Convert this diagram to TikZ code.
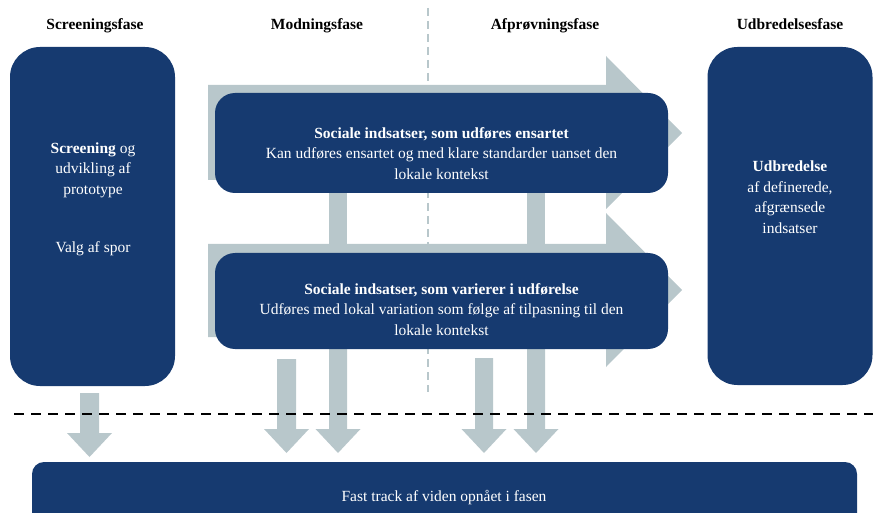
\documentclass[tikz,border=0pt]{standalone}
\usepackage{fontspec}
\setmainfont{Liberation Serif}
\definecolor{navy}{HTML}{163A70}
\definecolor{arrowgray}{HTML}{B8C7CB}
\begin{document}
\begin{tikzpicture}[x=1pt,y=-1pt,
  box/.style={fill=navy, text=white, align=center, inner sep=0pt, font=\fontsize{15.5}{20.5}\selectfont},
  hdr/.style={text=black, inner sep=0pt, anchor=base, font=\fontsize{15.5}{18}\selectfont\bfseries},
  flow/.style={fill=arrowgray},
  phaseline/.style={draw=arrowgray, line width=2pt, dash pattern=on 8pt off 5pt},
  splitline/.style={draw=black, line width=2.5pt, dash pattern=on 10pt off 7pt}]
\useasboundingbox (0,0) rectangle (873,513);
\clip (0,0) rectangle (873,513);
% headers
\node[hdr] (h1) at (95,30) {Screeningsfase};
\node[hdr] (h2) at (317,30) {Modningsfase};
\node[hdr] (h3) at (545,30) {Afprøvningsfase};
\node[hdr] (h4) at (790,30) {Udbredelsesfase};
% phase divider
\coordinate (d1) at (428,8);
\coordinate (d2) at (428,392);
\draw[phaseline] (d1) -- (d2);
% big arrows
\fill[flow] (208,85) -- (606,85) -- (606,56) -- (682,133) -- (606,209) -- (606,180) -- (208,180) -- cycle;
\fill[flow] (208,244) -- (606,244) -- (606,213) -- (682,290) -- (606,367) -- (606,337) -- (208,337) -- cycle;
% vertical connectors
\fill[flow] (329,180) rectangle (347,244);
\fill[flow] (527,180) rectangle (545,244);
% down arrows
\fill[flow] (80,393) -- (99,393) -- (99,433) -- (112,433) -- (89.5,457) -- (67,433) -- (80,433) -- cycle;
\fill[flow] (277,359) -- (296,359) -- (296,429) -- (309,429) -- (286.5,453) -- (264,429) -- (277,429) -- cycle;
\fill[flow] (329,337) -- (347,337) -- (347,429) -- (360.5,429) -- (338,453) -- (315.5,429) -- (329,429) -- cycle;
\fill[flow] (475,358) -- (493,358) -- (493,429) -- (506.5,429) -- (484,453) -- (461.5,429) -- (475,429) -- cycle;
\fill[flow] (527,337) -- (545,337) -- (545,429) -- (558.5,429) -- (536,453) -- (513.5,429) -- (527,429) -- cycle;
% boxes
\node[box, minimum width=165pt, minimum height=339pt, rounded corners=30pt] (screen) at (92.5,216.5) {};
\node[box, align=center] (screentxt) at (93,170) {\textbf{Screening} og\\udvikling af\\prototype};
\node[box] (spor) at (93,249) {Valg af spor};
\node[box, minimum width=165pt, minimum height=338pt, rounded corners=30pt] (udbr) at (790,216) {};
\node[box] (udbrtxt) at (790,197) {\textbf{Udbredelse}\\af definerede,\\afgrænsede\\indsatser};
\node[box, minimum width=453pt, minimum height=100pt, rounded corners=20pt] (ens) at (441.5,143) {};
\node[box] (enstxt) at (441.5,153.5) {\textbf{Sociale indsatser, som udføres ensartet}\\Kan udføres ensartet og med klare standarder uanset den\\lokale kontekst};
\node[box, minimum width=453pt, minimum height=96pt, rounded corners=20pt] (var) at (441.5,301) {};
\node[box] (vartxt) at (441.5,309.5) {\textbf{Sociale indsatser, som varierer i udførelse}\\Udføres med lokal variation som følge af tilpasning til den\\lokale kontekst};
\node[box, minimum width=825pt, minimum height=70pt, rounded corners=12pt] (fast) at (444.5,497) {};
\node[box] (fasttxt) at (444,498) {Fast track af viden opnået i fasen};
% split line
\coordinate (s1) at (14,414);
\coordinate (s2) at (873,414);
\draw[splitline] (s1) -- (s2);
\end{tikzpicture}
\end{document}
